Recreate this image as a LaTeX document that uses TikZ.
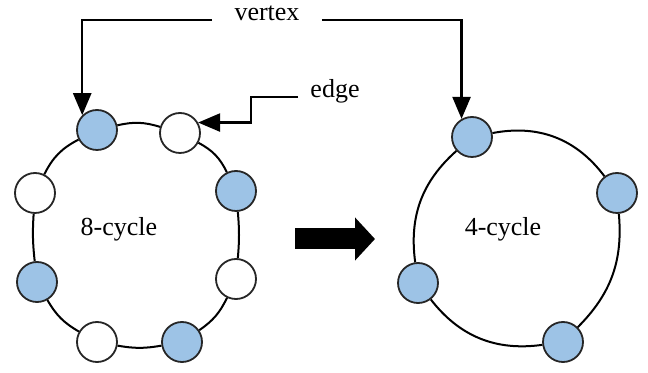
\documentclass[tikz,border=0pt]{standalone}
\usepackage{fontspec}
\setmainfont{Liberation Serif}
\usetikzlibrary{arrows.meta}

\definecolor{vertblue}{HTML}{9DC3E6}
\tikzset{
  vert/.style={circle,draw=black!85,line width=0.9pt,minimum size=20pt,inner sep=0pt},
  bluevert/.style={vert,fill=vertblue},
  whitevert/.style={vert,fill=white},
  pointer/.style={line width=1.2pt,-{Triangle[length=11pt,width=9pt]}},
  ring/.style={line width=1pt}
}

\begin{document}
\begin{tikzpicture}[x=0.5pt,y=-0.5pt,font=\fontsize{13}{15}\selectfont]
  \useasboundingbox (0,0) rectangle (648,373);

  % 8-cycle
  \node[bluevert]  (a1) at (97,130) {};
  \node[whitevert] (a2) at (180,133) {};
  \node[bluevert]  (a3) at (236,191) {};
  \node[whitevert] (a4) at (236,279) {};
  \node[bluevert]  (a5) at (182,342) {};
  \node[whitevert] (a6) at (97,342) {};
  \node[bluevert]  (a7) at (37,282) {};
  \node[whitevert] (a8) at (35,193) {};
  \node (c8) at (119,229) {8-cycle};

  \draw[ring] (a1) edge[bend left=15] (a2)
              (a2) edge[bend left=18] (a3)
              (a3) edge[bend left=5]  (a4)
              (a4) edge[bend left=15] (a5)
              (a5) edge[bend left=10] (a6)
              (a6) edge[bend left=15] (a7)
              (a7) edge[bend left=5]  (a8)
              (a8) edge[bend left=18] (a1);

  % 4-cycle
  \node[bluevert] (b1) at (472,137) {};
  \node[bluevert] (b2) at (617,193) {};
  \node[bluevert] (b3) at (563,342) {};
  \node[bluevert] (b4) at (418,283) {};
  \node (c4) at (503,229) {4-cycle};

  \draw[ring] (b1) edge[bend left=32] (b2)
              (b2) edge[bend left=25] (b3)
              (b3) edge[bend left=30] (b4)
              (b4) edge[bend left=28] (b1);

  % labels
  \node[inner xsep=11pt] (vertex) at (267,13) {vertex};
  \node[inner xsep=6pt] (edge) at (335,91) {edge};

  \draw[pointer] (vertex.base west) -| (a1.135);
  \draw[pointer] (vertex.base east) -| (b1.120);
  \draw[pointer] (edge.base west) -- ++(-47,0) |- (a2.30);

  % big arrow
  \coordinate (from) at (295,239);
  \coordinate (to) at (375,239);
  \draw[line width=10.5pt,-{Triangle[length=10pt,width=21pt]}] (from) -- (to);
\end{tikzpicture}
\end{document}
